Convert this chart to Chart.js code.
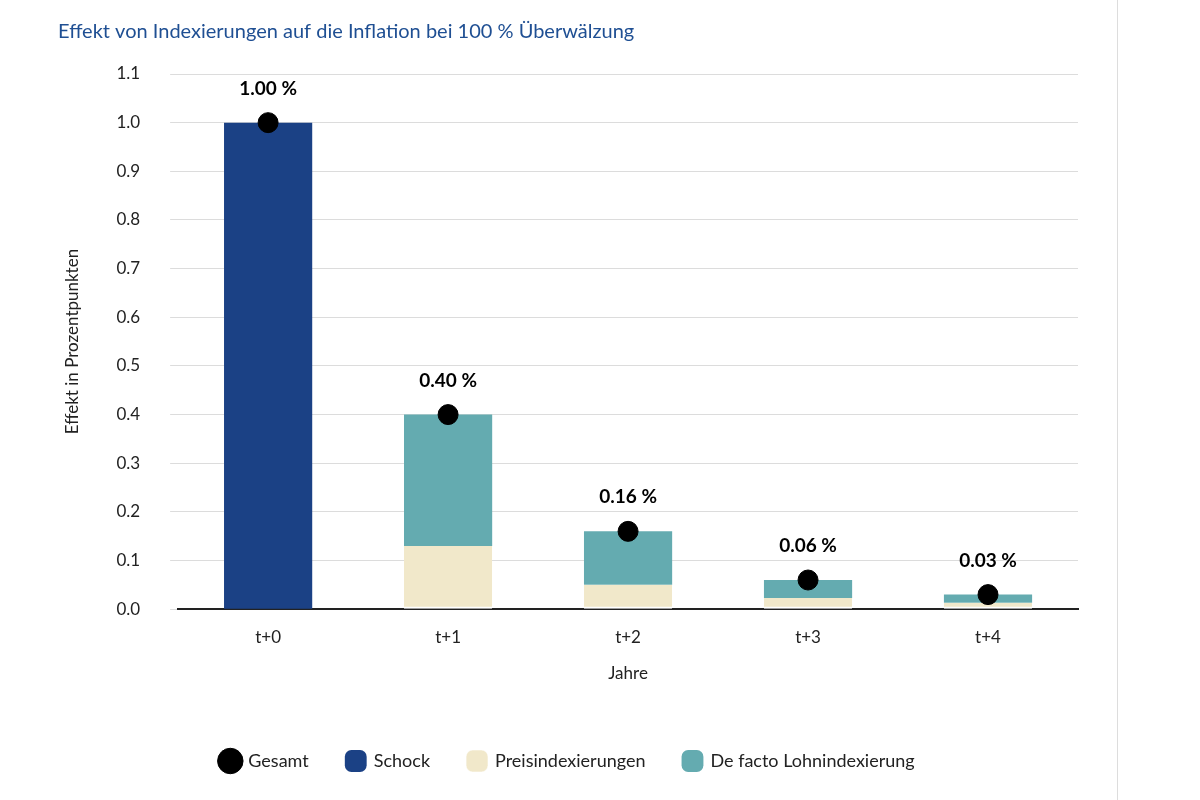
<!DOCTYPE html>
<html><head><meta charset="utf-8">
<script src="https://cdn.jsdelivr.net/npm/chart.js@4"></script>
<style>html,body{margin:0;background:#fff}#w{width:1200px;height:800px;position:relative}
#edge{position:absolute;left:1117px;top:0;width:1px;height:800px;background:#ddd}</style>
</head><body><div id="w"><canvas id="c" width="1200" height="800"></canvas><div id="edge"></div></div>
<script>
const categories=["t+0","t+1","t+2","t+3","t+4"];
const schock=[1.0,null,null,null,null];
const lohn=[null,0.27,0.11,0.037,0.017];
const preis=[null,0.13,0.05,0.023,0.013];
const gesamt=[1.0,0.40,0.16,0.06,0.03];
const labels=["1.00 %","0.40 %","0.16 %","0.06 %","0.03 %"];
const yTicks=[0,0.1,0.2,0.3,0.4,0.5,0.6,0.7,0.8,0.9,1.0,1.1];
Chart.defaults.font.family="Lato, 'Open Sans', sans-serif";
const lbl={id:'lbl',afterDatasetsDraw(ch){const m=ch.getDatasetMeta(3),x=ch.ctx;x.save();x.font="bold 19px Lato";x.fillStyle="#000";x.textAlign="center";x.textBaseline="middle";
m.data.forEach((p,i)=>x.fillText(labels[i],p.x,p.y-34));x.restore();}};
new Chart(document.getElementById('c'),{
data:{labels:categories,datasets:[
{type:'bar',label:'Schock',data:schock,backgroundColor:'#1b4185',stack:'s',order:2,pointStyle:'rectRounded'},
{type:'bar',label:'Preisindexierungen',data:preis,backgroundColor:'#f1e8ca',stack:'s',order:2,pointStyle:'rectRounded',borderColor:'#fff',borderWidth:{bottom:2,top:0,left:0,right:0},borderSkipped:false},
{type:'bar',label:'De facto Lohnindexierung',data:lohn,backgroundColor:'#64abb0',stack:'s',order:2,pointStyle:'rectRounded'},
{type:'line',label:'Gesamt',data:gesamt,showLine:false,pointRadius:10,pointHoverRadius:10,backgroundColor:'#000',borderColor:'#000',pointStyle:'circle',order:1}
]},
options:{responsive:false,animation:false,devicePixelRatio:1,
layout:{padding:{left:58,right:122,top:20,bottom:20}},
datasets:{bar:{categoryPercentage:1,barPercentage:0.49}},
plugins:{tooltip:{enabled:false},
title:{display:true,text:'Effekt von Indexierungen auf die Inflation bei 100 % Überwälzung',align:'start',color:'#1f4f93',font:{size:20,weight:'normal'},padding:{top:0,bottom:30}},
legend:{position:'bottom',labels:{usePointStyle:true,boxWidth:18,boxHeight:18,padding:38,color:'#222',font:{size:18}},onClick:null}},
scales:{
x:{stacked:true,grid:{display:false},border:{color:'#222',width:2},ticks:{color:'#222',font:{size:17},padding:10},
  title:{display:true,text:'Jahre',color:'#222',font:{size:17},padding:{top:6,bottom:30}}},
y:{stacked:true,min:0,max:1.1,afterBuildTicks(a){a.ticks=yTicks.map(v=>({value:v}));},
  grid:{color:'#dcdcdc'},border:{display:false},
  ticks:{color:'#222',font:{size:17},padding:30,callback:v=>v.toFixed(1)},
  title:{display:true,text:'Effekt in Prozentpunkten',color:'#222',font:{size:17},padding:{bottom:4}}}
}},plugins:[lbl]});
</script>
</body></html>
